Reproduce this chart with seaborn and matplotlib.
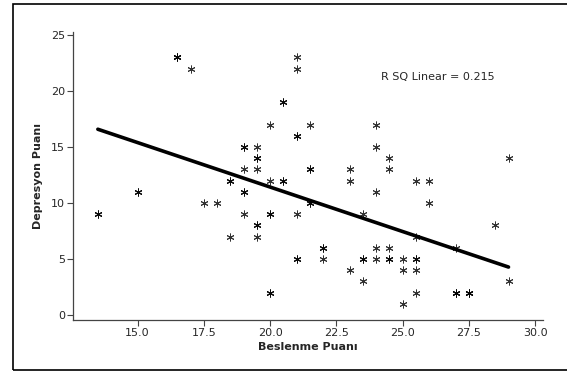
import numpy as np
import pandas as pd
import matplotlib
matplotlib.use('Agg')
import matplotlib.pyplot as plt
import seaborn as sns
from matplotlib.patches import Rectangle

# Beslenme (x) and Depresyon (y) scores
beslenme = [13.5, 13.5, 15, 15, 16.5, 16.5, 16.5, 17, 17.5, 18, 18.5, 18.5, 18.5,
            19, 19, 19, 19, 19, 19, 19.5, 19.5, 19.5, 19.5, 19.5, 19.5, 19.5,
            20, 20, 20, 20, 20, 20, 20.5, 20.5, 20.5, 20.5,
            21, 21, 21, 21, 21, 21, 21, 21.5, 21.5, 21.5, 21.5, 21.5,
            22, 22, 22, 23, 23, 23, 23.5, 23.5, 23.5, 23.5,
            24, 24, 24, 24, 24, 24.5, 24.5, 24.5, 24.5, 24.5,
            25, 25, 25, 25.5, 25.5, 25.5, 25.5, 25.5, 25.5,
            26, 26, 27, 27, 27, 27, 27.5, 27.5, 27.5, 28.5, 29, 29]
depresyon = [9, 9, 11, 11, 23, 23, 23, 22, 10, 10, 12, 12, 7,
             15, 15, 13, 11, 11, 9, 15, 14, 14, 13, 8, 8, 7,
             17, 12, 9, 9, 2, 2, 19, 19, 12, 12,
             23, 22, 16, 16, 9, 5, 5, 17, 13, 13, 10, 10,
             6, 6, 5, 13, 12, 4, 9, 5, 5, 3,
             17, 15, 11, 6, 5, 14, 13, 6, 5, 5,
             5, 4, 1, 12, 7, 5, 5, 4, 2,
             12, 10, 6, 2, 2, 2, 2, 2, 2, 8, 14, 3]

x_ticks = [15.0, 17.5, 20.0, 22.5, 25.0, 27.5, 30.0]
y_ticks = [0, 5, 10, 15, 20, 25]

df = pd.DataFrame({'Beslenme': beslenme, 'Depresyon': depresyon})

sns.set_style("ticks")
plt.rcParams['font.family'] = ['DejaVu Sans']

fig = plt.figure(figsize=(5.67, 3.72), dpi=100)
ax = fig.add_axes([0.1296, 0.1398, 0.828, 0.774])

sns.regplot(data=df, x='Beslenme', y='Depresyon', ax=ax, ci=None,
            marker=(6, 2, 0),
            scatter_kws={'s': 26, 'color': 'black', 'linewidths': 0.7},
            line_kws={'color': 'black', 'linewidth': 2.6})

ax.set_xlim(12.58, 30.3)
ax.set_ylim(-0.45, 25.27)
ax.set_xticks(x_ticks)
ax.set_xticklabels([f"{t:.1f}" for t in x_ticks])
ax.set_yticks(y_ticks)
ax.tick_params(labelsize=8, length=4, width=0.8, color='#444444', pad=2)
for s in ['top', 'right']:
    ax.spines[s].set_visible(False)
for s in ['left', 'bottom']:
    ax.spines[s].set_color('#444444')
    ax.spines[s].set_linewidth(0.9)

ax.set_xlabel("Beslenme Puanı", fontsize=8, fontweight='bold', labelpad=3)
ax.set_ylabel("Depresyon Puanı", fontsize=8, fontweight='bold', labelpad=6)
ax.text(24.2, 21.25, "R SQ Linear = 0.215", fontsize=8, ha='left', va='center')

# outer chart frame
fig.patches.append(Rectangle((13 / 567, 2 / 372), 1.2, 1 - 6 / 372,
                             transform=fig.transFigure, fill=False,
                             edgecolor='black', linewidth=1.2))

fig.savefig('out.png', dpi=100)
